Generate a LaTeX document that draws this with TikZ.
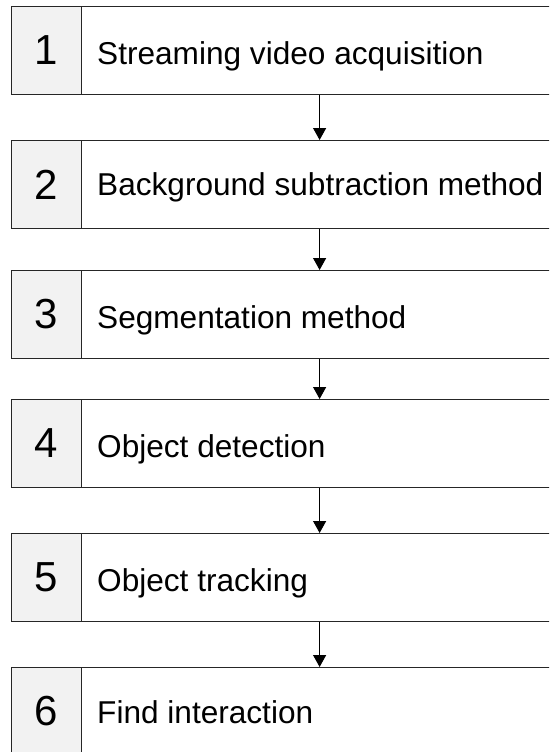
\documentclass[tikz,border=0pt]{standalone}
\usepackage{fontspec}
\setmainfont{Liberation Sans}
\usetikzlibrary{arrows.meta}
\definecolor{edge}{HTML}{262626}
\definecolor{numfill}{HTML}{F2F2F2}
\tikzset{
  numbox/.style={draw=edge, line width=1.2pt, fill=numfill, minimum width=70pt,
    minimum height=87.5pt, inner sep=0pt, anchor=north west,
    font=\fontsize{42}{42}\selectfont},
  stepbox/.style={draw=edge, line width=1.2pt, fill=white, minimum width=476pt,
    minimum height=87.5pt, inner sep=0pt, anchor=north west},
  steptext/.style={anchor=base west, inner sep=0pt, font=\fontsize{31.6}{34}\selectfont},
  flow/.style={-{Triangle[width=13pt,length=12pt]}, line width=1.2pt, draw=black}
}
\begin{document}
\begin{tikzpicture}[x=1pt,y=-1pt]
\clip (0,0) rectangle (549,752);
\fill[white] (0,0) rectangle (549,752);
% step boxes: top edge and text baseline of each row
\foreach \i/\top/\base/\txt in {
  1/6/64/Streaming video acquisition,
  2/140/195/Background subtraction method,
  3/270/328/Segmentation method,
  4/399/457/Object detection,
  5/533/591/Object tracking,
  6/667/723/Find interaction}{
  \node[stepbox] (s\i) at (81,\top) {};
  \node[numbox] (n\i) at (11,\top) {\i};
  \node[steptext] (t\i) at (97,\base) {\txt};
}
% arrows between consecutive steps
\foreach \a/\b in {1/2,2/3,3/4,4/5,5/6}{
  \draw[flow] (s\a.south) -- (s\b.north);
}
\end{tikzpicture}
\end{document}
